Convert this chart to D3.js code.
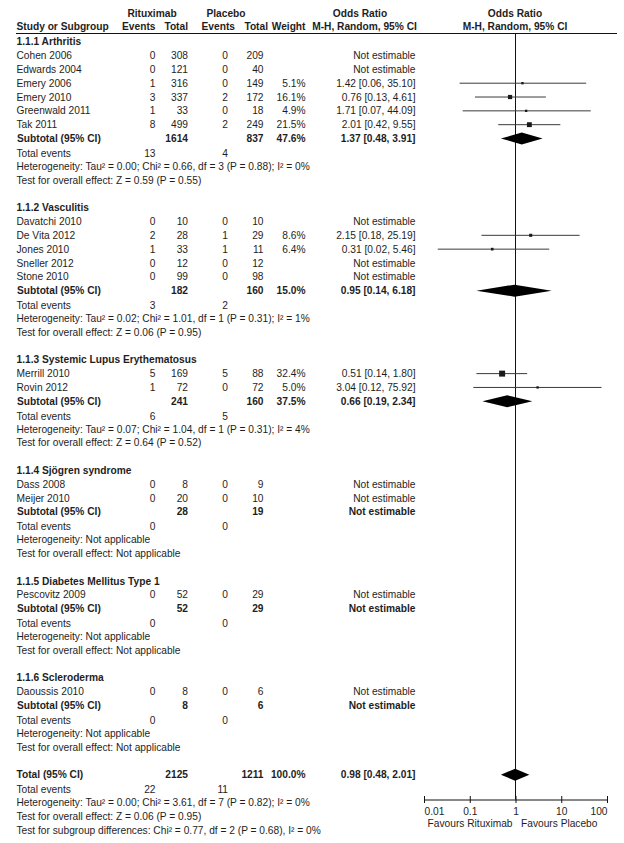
<!DOCTYPE html>
<html>
<head>
<meta charset="utf-8">
<script src="https://cdn.jsdelivr.net/npm/d3@7"></script>
<style>
  body { margin: 0; background: #fff; }
  svg text { font-family: "Liberation Sans", Arial, sans-serif; font-size: 10.2px; fill: #1e1e1e; }
  .b { font-weight: bold; }
</style>
</head>
<body>
<svg id="chart" width="624" height="843"></svg>
<script>
// subgroups
const groupNames = ["1.1.1 Arthritis", "1.1.2 Vasculitis", "1.1.3 Systemic Lupus Erythematosus",
  "1.1.4 Sjögren syndrome", "1.1.5 Diabetes Mellitus Type 1", "1.1.6 Scleroderma"];

// studies
const studyNames = ["Cohen 2006", "Edwards 2004", "Emery 2006", "Emery 2010", "Greenwald 2011", "Tak 2011",
  "Davatchi 2010", "De Vita 2012", "Jones 2010", "Sneller 2012", "Stone 2010",
  "Merrill 2010", "Rovin 2012",
  "Dass 2008", "Meijer 2010",
  "Pescovitz 2009",
  "Daoussis 2010"];
const studyGroup = [0, 0, 0, 0, 0, 0, 1, 1, 1, 1, 1, 2, 2, 3, 3, 4, 5];
const ritEvents = [0, 0, 1, 3, 1, 8, 0, 2, 1, 0, 0, 5, 1, 0, 0, 0, 0];
const ritTotal = [308, 121, 316, 337, 33, 499, 10, 28, 33, 12, 99, 169, 72, 8, 20, 52, 8];
const plaEvents = [0, 0, 0, 2, 0, 2, 0, 1, 1, 0, 0, 5, 0, 0, 0, 0, 0];
const plaTotal = [209, 40, 149, 172, 18, 249, 10, 29, 11, 12, 98, 88, 72, 9, 10, 29, 6];
const weights = [null, null, 5.1, 16.1, 4.9, 21.5, null, 8.6, 6.4, null, null, 32.4, 5.0, null, null, null, null];
const orEst = [null, null, 1.42, 0.76, 1.71, 2.01, null, 2.15, 0.31, null, null, 0.51, 3.04, null, null, null, null];
const orLow = [null, null, 0.06, 0.13, 0.07, 0.42, null, 0.18, 0.02, null, null, 0.14, 0.12, null, null, null, null];
const orHigh = [null, null, 35.10, 4.61, 44.09, 9.55, null, 25.19, 5.46, null, null, 1.80, 75.92, null, null, null, null];

// subtotals per subgroup
const subRitTotal = [1614, 182, 241, 28, 52, 8];
const subPlaTotal = [837, 160, 160, 19, 29, 6];
const subRitEvents = [13, 3, 6, 0, 0, 0];
const subPlaEvents = [4, 2, 5, 0, 0, 0];
const subWeight = [47.6, 15.0, 37.5, null, null, null];
const subEst = [1.37, 0.95, 0.66, null, null, null];
const subLow = [0.48, 0.14, 0.19, null, null, null];
const subHigh = [3.91, 6.18, 2.34, null, null, null];
const subHet = [
  "Heterogeneity: Tau² = 0.00; Chi² = 0.66, df = 3 (P = 0.88); I² = 0%",
  "Heterogeneity: Tau² = 0.02; Chi² = 1.01, df = 1 (P = 0.31); I² = 1%",
  "Heterogeneity: Tau² = 0.07; Chi² = 1.04, df = 1 (P = 0.31); I² = 4%",
  "Heterogeneity: Not applicable",
  "Heterogeneity: Not applicable",
  "Heterogeneity: Not applicable"];
const subTest = [
  "Test for overall effect: Z = 0.59 (P = 0.55)",
  "Test for overall effect: Z = 0.06 (P = 0.95)",
  "Test for overall effect: Z = 0.64 (P = 0.52)",
  "Test for overall effect: Not applicable",
  "Test for overall effect: Not applicable",
  "Test for overall effect: Not applicable"];

// overall
const totRit = 2125, totPla = 1211, totRitEvents = 22, totPlaEvents = 11;
const totEst = 0.98, totLow = 0.48, totHigh = 2.01;
const totLines = [
  "Heterogeneity: Tau² = 0.00; Chi² = 3.61, df = 7 (P = 0.82); I² = 0%",
  "Test for overall effect: Z = 0.06 (P = 0.95)",
  "Test for subgroup differences: Chi² = 0.77, df = 2 (P = 0.68), I² = 0%"];

const axisTicks = [0.01, 0.1, 1, 10, 100];

const svg = d3.select("#chart");
const f2 = d3.format(".2f");
const ciText = (e, l, h) => `${f2(e)} [${f2(l)}, ${f2(h)}]`;
const pct = d3.format(".1f");

// columns (right edges)
const col = { name: 16.5, ritEv: 155.5, ritTot: 188, plaEv: 228, plaTot: 263.5, wt: 305.5, or: 415.5 };

// build row layout
const rows = [];
let slot = 0;
groupNames.forEach((gName, gi) => {
  rows.push({ type: "group", slot: slot++, g: gi });
  studyNames.forEach((s, i) => { if (studyGroup[i] === gi) rows.push({ type: "study", slot: slot++, i }); });
  rows.push({ type: "subtotal", slot: slot++, g: gi });
  rows.push({ type: "events", slot: slot++, g: gi });
  rows.push({ type: "line", slot: slot++, text: subHet[gi] });
  rows.push({ type: "line", slot: slot++, text: subTest[gi] });
  slot++;
});
rows.push({ type: "total", slot: slot++ });
rows.push({ type: "totevents", slot: slot++ });
totLines.forEach(t => rows.push({ type: "line", slot: slot++, text: t }));

const y = d3.scaleLinear().domain([0, slot - 1]).range([41.7, 830]);
const x = d3.scaleLog().domain([0.01, 100]).range([424, 607]);
const size = d3.scaleSqrt().domain([0, 100]).range([0, 10.5]);

const axisY = 799.5;

// header
const hd = svg.append("g");
const hText = (tx, ty, t, anchor) => hd.append("text").attr("class", "b")
  .attr("x", tx).attr("y", ty).attr("text-anchor", anchor).text(t);
hText(152, 17, "Rituximab", "middle");
hText(226, 17, "Placebo", "middle");
hText(360, 17, "Odds Ratio", "middle");
hText(515, 17, "Odds Ratio", "middle");
hText(col.name, 30, "Study or Subgroup", "start");
hText(col.ritEv, 30, "Events", "end");
hText(col.ritTot, 30, "Total", "end");
hText(235, 30, "Events", "end");
hText(268, 30, "Total", "end");
hText(col.wt, 30, "Weight", "end");
hText(364.5, 30, "M-H, Random, 95% CI", "middle");
hText(515, 30, "M-H, Random, 95% CI", "middle");
hd.append("line").attr("x1", 16).attr("x2", 617).attr("y1", 33.5).attr("y2", 33.5)
  .attr("stroke", "#111").attr("stroke-width", 1);

// line of no effect
svg.append("line").attr("x1", x(1)).attr("x2", x(1)).attr("y1", 33.5).attr("y2", axisY)
  .attr("stroke", "#111").attr("stroke-width", 1);

const body = svg.append("g");
function txt(tx, ry, t, anchor, bold) {
  body.append("text").attr("class", bold ? "b" : null)
    .attr("x", tx).attr("y", ry).attr("dy", "0.35em")
    .attr("text-anchor", anchor || "end").text(t);
}

rows.forEach(r => {
  const ry = y(r.slot);
  if (r.type === "group") {
    txt(col.name, ry, groupNames[r.g], "start", true);
  } else if (r.type === "study") {
    const i = r.i;
    txt(col.name, ry, studyNames[i], "start");
    txt(col.ritEv, ry, ritEvents[i]);
    txt(col.ritTot, ry, ritTotal[i]);
    txt(col.plaEv, ry, plaEvents[i]);
    txt(col.plaTot, ry, plaTotal[i]);
    if (weights[i] != null) {
      txt(col.wt, ry, pct(weights[i]) + "%");
      txt(col.or, ry, ciText(orEst[i], orLow[i], orHigh[i]));
      body.append("line").attr("x1", x(orLow[i])).attr("x2", x(Math.min(orHigh[i], 100)))
        .attr("y1", ry).attr("y2", ry).attr("stroke", "#3a3a3a").attr("stroke-width", 1);
      const s = Math.max(2, size(weights[i]));
      body.append("rect").attr("x", x(orEst[i]) - s / 2).attr("y", ry - s / 2)
        .attr("width", s).attr("height", s).attr("fill", "#1a1a1a");
    } else {
      txt(col.or, ry, "Not estimable");
    }
  } else if (r.type === "subtotal") {
    const g = r.g;
    txt(col.name + 0.5, ry, "Subtotal (95% CI)", "start", true);
    txt(col.ritTot, ry, subRitTotal[g], "end", true);
    txt(col.plaTot, ry, subPlaTotal[g], "end", true);
    if (subWeight[g] != null) {
      txt(col.wt, ry, pct(subWeight[g]) + "%", "end", true);
      txt(col.or, ry, ciText(subEst[g], subLow[g], subHigh[g]), "end", true);
      body.append("path").attr("fill", "#000")
        .attr("d", d3.line()([[x(subLow[g]), ry], [x(subEst[g]), ry - 6], [x(subHigh[g]), ry], [x(subEst[g]), ry + 6]]) + "Z");
    } else {
      txt(col.or, ry, "Not estimable", "end", true);
    }
  } else if (r.type === "events") {
    txt(col.name, ry + 1, "Total events", "start");
    txt(col.ritEv, ry + 1, subRitEvents[r.g]);
    txt(col.plaEv, ry + 1, subPlaEvents[r.g]);
  } else if (r.type === "line") {
    txt(col.name, ry, r.text, "start");
  } else if (r.type === "total") {
    txt(col.name, ry, "Total (95% CI)", "start", true);
    txt(col.ritTot, ry, totRit, "end", true);
    txt(col.plaTot, ry, totPla, "end", true);
    txt(col.wt, ry, "100.0%", "end", true);
    txt(col.or, ry, ciText(totEst, totLow, totHigh), "end", true);
    body.append("path").attr("fill", "#000")
      .attr("d", d3.line()([[x(totLow), ry], [x(totEst), ry - 6], [x(totHigh), ry], [x(totEst), ry + 6]]) + "Z");
  } else if (r.type === "totevents") {
    txt(col.name, ry + 1, "Total events", "start");
    txt(col.ritEv, ry + 1, totRitEvents);
    txt(col.plaEv, ry + 1, totPlaEvents);
  }
});

// axis
const ax = svg.append("g").attr("transform", `translate(0,${axisY})`)
  .call(d3.axisBottom(x).tickValues(axisTicks).tickFormat(d => String(d)).tickSizeOuter(0));
ax.attr("font-family", null).attr("font-size", null);
ax.select(".domain").attr("stroke", "#111");
ax.selectAll(".tick line").attr("y1", -3.5).attr("y2", 3.5).attr("stroke", "#111");
ax.selectAll(".tick text").attr("y", 8).attr("fill", "#1e1e1e")
  .attr("text-anchor", (d, i) => i === 0 ? "start" : (i === axisTicks.length - 1 ? "end" : "middle"));

svg.append("text").attr("x", x(1) - 3).attr("y", 827).attr("text-anchor", "end").text("Favours Rituximab");
svg.append("text").attr("x", x(1) + 5.5).attr("y", 827).attr("text-anchor", "start").text("Favours Placebo");
</script>
</body>
</html>
